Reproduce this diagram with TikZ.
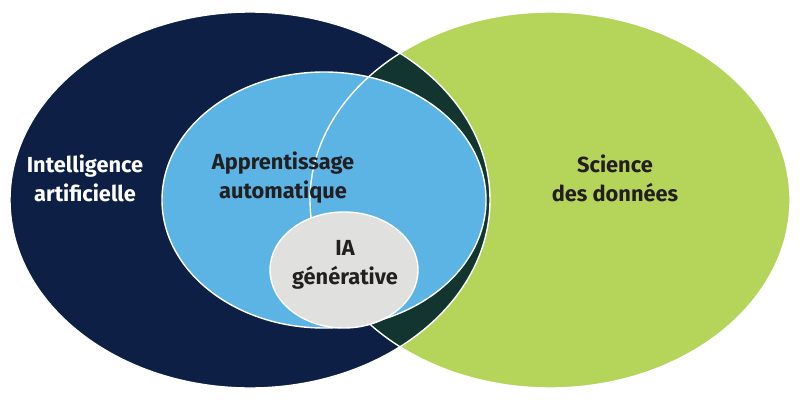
\documentclass[tikz,border=0pt]{standalone}
\usepackage{fontspec}
\setmainfont{Fira Sans}
\definecolor{ainavy}{HTML}{0E1F45}
\definecolor{dsgreen}{HTML}{B5D55A}
\definecolor{overlapgreen}{HTML}{12362F}
\definecolor{mlblue}{HTML}{5CB4E5}
\definecolor{gengrey}{HTML}{E0E1DF}
\definecolor{labeldark}{HTML}{231F20}
\tikzset{
  label text/.style={align=center,font=\fontsize{15.5}{20.6}\selectfont\bfseries,text=labeldark},
  edge line/.style={draw=white,line width=1pt}
}

\begin{document}
\begin{tikzpicture}[x=0.025cm,y=-0.025cm]
    \useasboundingbox (0,0) rectangle (800,400);
    \fill[ainavy] (250,200) ellipse [x radius=240, y radius=188];
    \fill[dsgreen] (550,200) ellipse [x radius=240, y radius=188];
    \begin{scope}
      \clip (250,200) ellipse [x radius=240, y radius=188];
      \fill[overlapgreen] (550,200) ellipse [x radius=240, y radius=188];
    \end{scope}
    \draw[edge line] (250,200) ellipse [x radius=240, y radius=188];
    \draw[edge line] (550,200) ellipse [x radius=240, y radius=188];
    \filldraw[fill=mlblue,edge line] (324,200) ellipse [x radius=162, y radius=128];
    \begin{scope}
      \clip (324,200) ellipse [x radius=162, y radius=128];
      \draw[edge line] (550,200) ellipse [x radius=240, y radius=188];
    \end{scope}
    \filldraw[fill=gengrey,edge line] (344,270) ellipse [x radius=74, y radius=58];
    \node[label text,text=white] (ai) at (85,178) {Intelligence\\artificielle};
    \node[label text] (ml) at (283,178) {Apprentissage\\automatique};
    \node[label text] (genai) at (345,265) {IA\\générative};
    \node[label text] (ds) at (615,178) {Science\\des données};
  \end{tikzpicture}
\end{document}
